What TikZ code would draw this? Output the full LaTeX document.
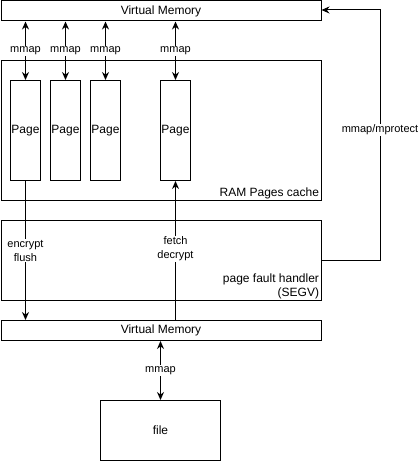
\documentclass[tikz,border=0pt]{standalone}
\usepackage{fontspec}
\setmainfont{Liberation Sans}
\usetikzlibrary{arrows.meta,calc}
\begin{document}
\begin{tikzpicture}[x=1pt,y=-1pt,line width=1pt,
  box/.style={draw,rectangle,inner sep=0pt,anchor=north west},
  arr/.style={-{Stealth[length=8pt,width=7pt]}},
  darr/.style={{Stealth[length=8pt,width=7pt]}-{Stealth[length=8pt,width=7pt]}},
  lbl/.style={fill=white,font=\fontsize{11}{14}\selectfont,inner sep=1pt,align=center},
  txt/.style={font=\fontsize{12}{14}\selectfont}]
\useasboundingbox (0,0) rectangle (419,462);
% boxes
\node[box,minimum width=320pt,minimum height=20pt] (vm1) at (0.5,0.5) {};
\node[txt] at (vm1.center) {Virtual Memory};
\node[box,minimum width=320pt,minimum height=140pt] (ram) at (0.5,60) {};
\node[txt,anchor=south east,inner sep=2pt] (ramlbl) at (ram.south east) {RAM Pages cache};
\foreach \n/\x in {p1/10,p2/50,p3/90,p4/160}{
  \node[box,minimum width=30pt,minimum height=100pt] (\n) at (\x,80) {};
  \node[txt] at (\n.center) {Page};
}
\node[box,minimum width=320pt,minimum height=80pt] (pfh) at (0.5,220) {};
\node[txt,anchor=south east,align=right,inner sep=2pt] (pfhlbl) at (pfh.south east) {page fault handler\\(SEGV)};
\node[box,minimum width=320pt,minimum height=20pt] (vm2) at (0.5,320) {};
\node[txt] at (vm2.center) {Virtual Memory};
\node[box,minimum width=120pt,minimum height=60pt] (file) at (100,400) {};
\node[txt] at (file.center) {file};
% mmap arrows
\foreach \n in {p1,p2,p3,p4}{
  \draw[darr] (\n.north) -- (\n.north |- vm1.south) node[lbl,pos=0.5] {mmap};
}
\draw[darr] (vm2.south -| file.north) -- (file.north) node[lbl,pos=0.5] {mmap};
% encrypt/flush
\draw[arr] (p1.south) -- (p1.south |- vm2.north) node[lbl,pos=0.5] {encrypt\\flush};
% fetch/decrypt
\draw[arr] (p4.south |- vm2.north) -- (p4.south) node[lbl,pos=0.51] {fetch\\decrypt};
% mmap/mprotect
\coordinate (c1) at (380,260);
\coordinate (c2) at (380,10);
\draw[arr] (pfh.east |- c1) -- (c1) -- (c2) node[lbl,pos=0.52] {mmap/mprotect} -- (vm1.east |- c2);
\end{tikzpicture}
\end{document}
